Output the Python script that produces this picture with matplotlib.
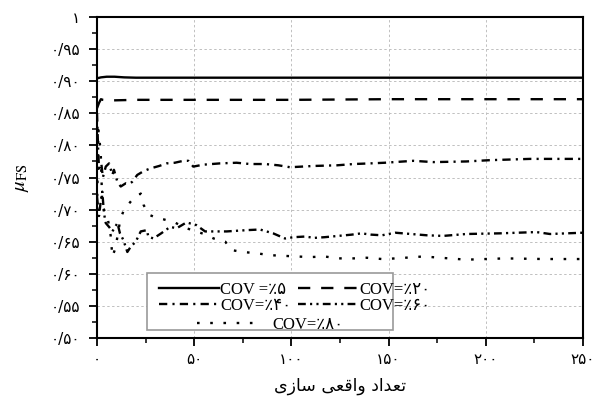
import numpy as np
import matplotlib
matplotlib.use('Agg')
import matplotlib.pyplot as plt
from matplotlib.patches import Rectangle

plt.rcParams['mathtext.fontset'] = 'stix'

# --- data ---
x5 = [0, 2, 5, 9, 14, 20, 30, 50, 100, 150, 200, 250]
y5 = [0.9045, 0.906, 0.907, 0.907, 0.906, 0.9055, 0.9055, 0.9055, 0.9055, 0.9055, 0.9055, 0.9055]

x20 = [0, 1, 2, 3, 6, 20, 50, 80, 100, 150, 200, 250]
y20 = [0.858, 0.866, 0.872, 0.871, 0.870, 0.871, 0.871, 0.871, 0.871, 0.872, 0.872, 0.872]

x40 = [0, 0.5, 1, 2.2, 3, 4.5, 6.2, 7.9, 8.7, 10.5, 12.2, 14.8, 16.5, 18, 20.7, 24, 27.3,
       32, 35.8, 40, 44.4, 47, 49.5, 54.7, 63.3, 71.8, 78.7, 86.4, 93.3, 99.3, 111.5, 123.5,
       132, 140.6, 148, 162.7, 173, 190, 202, 222.7, 250]
y40 = [0.85, 0.80, 0.764, 0.772, 0.75, 0.767, 0.772, 0.754, 0.762, 0.743, 0.736, 0.741, 0.740,
       0.743, 0.754, 0.760, 0.764, 0.768, 0.772, 0.773, 0.776, 0.776, 0.767, 0.770, 0.772, 0.773,
       0.771, 0.771, 0.769, 0.766, 0.768, 0.769, 0.771, 0.772, 0.773, 0.776, 0.774, 0.775, 0.777,
       0.779, 0.779]

x60 = [0, 1, 2, 2.7, 3.6, 4.5, 6.2, 7.9, 10.5, 11.8, 13.5, 15.6, 17.3, 19.9, 22.5, 25.6, 26.4,
       29, 33, 37.6, 41, 46, 51, 55.6, 66.7, 77, 83.8, 90.6, 96.7, 101, 106.8, 112, 117, 124,
       131, 136, 141, 146.6, 153.4, 169.6, 178, 190, 207, 226, 233, 250]
y60 = [0.72, 0.69, 0.715, 0.728, 0.694, 0.679, 0.673, 0.666, 0.679, 0.663, 0.653, 0.634, 0.642,
       0.650, 0.666, 0.668, 0.658, 0.655, 0.663, 0.673, 0.671, 0.680, 0.676, 0.666, 0.666, 0.668,
       0.669, 0.663, 0.655, 0.657, 0.658, 0.656, 0.657, 0.659, 0.661, 0.663, 0.661, 0.660, 0.664,
       0.660, 0.659, 0.662, 0.663, 0.665, 0.662, 0.664]

x80 = [0, 0.7, 1.9, 2.7, 3.6, 5.3, 7, 7.9, 9.5, 12, 13.9, 18, 22.5, 24, 26.7, 30, 34, 40, 45,
       49, 55, 60, 66, 69, 75, 82, 89, 95.8, 102.7, 109.6, 117, 124, 132, 138.8, 146.6, 154,
       167.8, 190, 210, 230, 250]
y80 = [0.70, 0.824, 0.79, 0.707, 0.70, 0.69, 0.66, 0.627, 0.64, 0.685, 0.70, 0.715, 0.725,
       0.707, 0.692, 0.688, 0.685, 0.680, 0.672, 0.668, 0.662, 0.655, 0.650, 0.637, 0.634,
       0.632, 0.629, 0.628, 0.627, 0.626, 0.627, 0.624, 0.624, 0.625, 0.623, 0.624, 0.627,
       0.622, 0.624, 0.623, 0.623]

labels = ['COV =\u066a\u06f5', 'COV=\u066a\u06f2\u06f0', 'COV=\u066a\u06f4\u06f0',
          'COV=\u066a\u06f6\u06f0', 'COV=\u066a\u06f8\u06f0']

yticks = [0.50, 0.55, 0.60, 0.65, 0.70, 0.75, 0.80, 0.85, 0.90, 0.95, 1.0]
ytick_labels = ['\u06f0/\u06f5\u06f0', '\u06f0/\u06f5\u06f5', '\u06f0/\u06f6\u06f0',
                '\u06f0/\u06f6\u06f5', '\u06f0/\u06f7\u06f0', '\u06f0/\u06f7\u06f5',
                '\u06f0/\u06f8\u06f0', '\u06f0/\u06f8\u06f5', '\u06f0/\u06f9\u06f0',
                '\u06f0/\u06f9\u06f5', '\u06f1']
xticks = [0, 50, 100, 150, 200, 250]
xtick_labels = ['\u06f0', '\u06f5\u06f0', '\u06f1\u06f0\u06f0', '\u06f1\u06f5\u06f0',
                '\u06f2\u06f0\u06f0', '\u06f2\u06f5\u06f0']

# "تعداد واقعی سازی" in shaped forms, visual order
xlabel = ('\ufeef\ufeaf\ufe8e\ufeb3 '
          '\ufef0\ufecc\ufed7\ufe8d\ufeed '
          '\ufea9\ufe8d\ufeaa\ufecc\ufe97')

# --- figure ---
fig = plt.figure(figsize=(6, 3.96), dpi=100)
ax = fig.add_axes([0.1617, 0.1465, 0.81, 0.8105])

lw = 1.7
styles = [
    dict(linestyle='-'),
    dict(linestyle=(0, (5.2, 4.6))),
    dict(linestyle=(0, (3.5, 2.2, 0.9, 2.2))),
    dict(linestyle=(0, (3.3, 1.8, 0.9, 1.8, 0.9, 1.8))),
    dict(linestyle=(0, (1.1, 4.5))),
]
series = [(x5, y5), (x20, y20), (x40, y40), (x60, y60), (x80, y80)]
handles = []
for (xs, ys), st, lab in zip(series, styles, labels):
    h, = ax.plot(xs, ys, color='black', lw=lw, label=lab, **st)
    handles.append(h)

ax.set_xlim(0, 250)
ax.set_ylim(0.5, 1.0)
ax.set_yticks(yticks)
ax.set_yticklabels(ytick_labels, fontsize=11, family=['DejaVu Sans'])
ax.set_yticks(np.arange(0.525, 1.0, 0.05), minor=True)
ax.set_xticks(xticks)
ax.set_xticklabels(xtick_labels, fontsize=11, family=['DejaVu Sans'])
ax.set_xticks([25, 75, 125, 175, 225], minor=True)
ax.tick_params(which='major', direction='out', length=6, width=1.3, pad=6)
ax.tick_params(axis='x', which='major', pad=4)
ax.tick_params(which='minor', direction='out', length=3.5, width=1.1)
for s in ax.spines.values():
    s.set_linewidth(1.5)

ax.grid(True, which='major', color='#c0c0c0', linestyle=(0, (2.5, 2.5)), lw=0.7)

ax.set_xlabel(xlabel, fontsize=12.5, family=['DejaVu Sans'], labelpad=7)
ax.set_ylabel(r'$\mu_{\mathrm{FS}}$', fontsize=15, labelpad=14)

# legend: two columns for four entries, one centred row below, one frame round them
prop = dict(family=['Liberation Serif', 'DejaVu Sans'], size=12)
order = [0, 2, 1, 3]
leg1 = ax.legend([handles[i] for i in order], [labels[i] for i in order], ncol=2,
                 loc='upper left', bbox_to_anchor=(0.103, 0.212), frameon=False, prop=prop,
                 handlelength=3.6, handletextpad=0.1, columnspacing=0.4,
                 labelspacing=0.0, borderpad=0.2)
ax.add_artist(leg1)
leg2 = ax.legend(handles[4:], labels[4:], loc='upper center',
                 bbox_to_anchor=(0.356, 0.098), frameon=False, prop=prop,
                 handlelength=3.6, handletextpad=0.9, borderpad=0.1)
ax.add_patch(Rectangle((0.103, 0.025), 0.506, 0.178, transform=ax.transAxes,
                       facecolor='white', edgecolor='#999999', lw=1.2, zorder=4))
leg1.set_zorder(5)
leg2.set_zorder(5)

fig.savefig('out.png', dpi=100)
